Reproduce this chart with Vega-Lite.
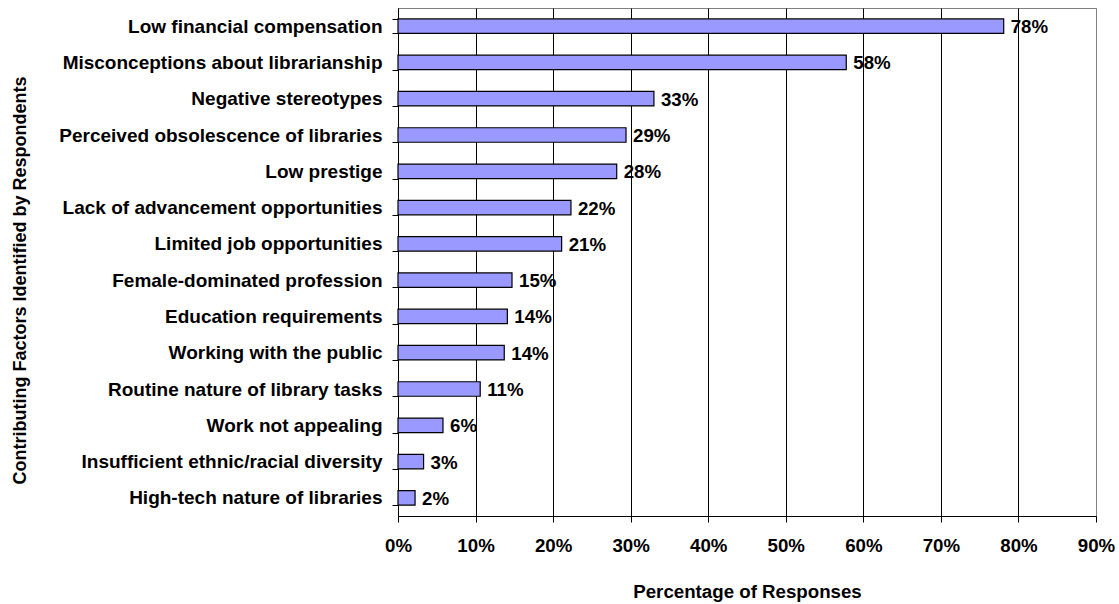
{
  "$schema": "https://vega.github.io/schema/vega-lite/v6.json",
  "autosize": {"type": "none"},
  "padding": {"left": 398, "top": 8, "right": 23, "bottom": 88},
  "width": 698,
  "height": 508,
  "background": "white",
  "config": {
    "font": "Liberation Sans",
    "view": {"stroke": "#808080", "strokeWidth": 1}
  },
  "data": {
    "values": [
      {"factor": "Low financial compensation", "value": 78.1, "label": "78%"},
      {"factor": "Misconceptions about librarianship", "value": 57.8, "label": "58%"},
      {"factor": "Negative stereotypes", "value": 33.0, "label": "33%"},
      {"factor": "Perceived obsolescence of libraries", "value": 29.4, "label": "29%"},
      {"factor": "Low prestige", "value": 28.2, "label": "28%"},
      {"factor": "Lack of advancement opportunities", "value": 22.3, "label": "22%"},
      {"factor": "Limited job opportunities", "value": 21.1, "label": "21%"},
      {"factor": "Female-dominated profession", "value": 14.7, "label": "15%"},
      {"factor": "Education requirements", "value": 14.1, "label": "14%"},
      {"factor": "Working with the public", "value": 13.7, "label": "14%"},
      {"factor": "Routine nature of library tasks", "value": 10.6, "label": "11%"},
      {"factor": "Work not appealing", "value": 5.8, "label": "6%"},
      {"factor": "Insufficient ethnic/racial diversity", "value": 3.3, "label": "3%"},
      {"factor": "High-tech nature of libraries", "value": 2.2, "label": "2%"}
    ]
  },
  "encoding": {
    "y": {
      "field": "factor",
      "type": "nominal",
      "sort": null,
      "scale": {"paddingInner": 0.6, "paddingOuter": 0.3},
      "axis": {
        "title": "Contributing Factors Identified by Respondents",
        "titleFont": "Liberation Sans",
        "titleFontSize": 18,
        "titleFontWeight": "bold",
        "titleColor": "black",
        "titleAngle": -90,
        "titleAlign": "center",
        "titleBaseline": "alphabetic",
        "titleX": -373,
        "titleY": 272,
        "labelFont": "Liberation Sans",
        "labelFontSize": 19,
        "labelFontWeight": "bold",
        "labelColor": "black",
        "labelPadding": 10,
        "labelLimit": 400,
        "tickBand": "extent",
        "tickSize": 6,
        "tickColor": "black",
        "domainColor": "black",
        "grid": false
      }
    },
    "x": {
      "field": "value",
      "type": "quantitative",
      "scale": {"domain": [0, 90], "nice": false},
      "axis": {
        "title": "Percentage of Responses",
        "titleFont": "Liberation Sans",
        "titleFontSize": 18.7,
        "titleFontWeight": "bold",
        "titleColor": "black",
        "titleBaseline": "top",
        "titleY": 66,
        "values": [0, 10, 20, 30, 40, 50, 60, 70, 80, 90],
        "labelExpr": "datum.value + '%'",
        "labelFont": "Liberation Sans",
        "labelFontSize": 18.7,
        "labelFontWeight": "bold",
        "labelColor": "black",
        "labelPadding": 14,
        "labelFlush": false,
        "tickSize": 6,
        "tickColor": "black",
        "domainColor": "black",
        "grid": true,
        "gridColor": {"condition": {"test": "datum.value == 90", "value": "#808080"}, "value": "black"},
        "gridWidth": 1
      }
    }
  },
  "layer": [
    {
      "mark": {"type": "bar", "color": "#9999FF", "stroke": "black", "strokeWidth": 1.2}
    },
    {
      "mark": {"type": "text", "align": "left", "baseline": "middle", "dx": 7, "dy": 1, "font": "Liberation Sans", "fontSize": 18.7, "fontWeight": "bold", "color": "black"},
      "encoding": {"text": {"field": "label"}}
    }
  ]
}
